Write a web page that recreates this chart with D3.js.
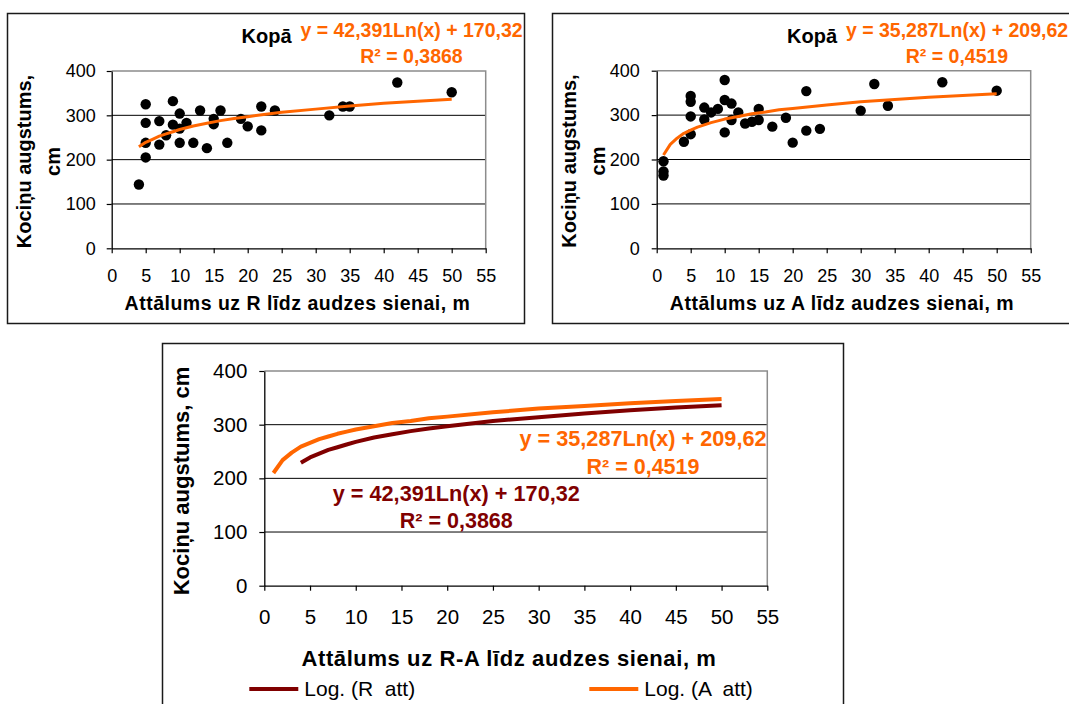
<!DOCTYPE html>
<meta charset="utf-8">
<script src="https://d3js.org/d3.v7.min.js"></script>
<style>
  body { margin: 0; background: #fff; }
  text { font-family: "Liberation Sans", Arial, sans-serif; }
</style>
<svg width="1069" height="704"></svg>
<script>

// scatter, distance to R wall
var rDist   = [4, 5, 5, 5, 5, 7, 7, 8, 9, 9, 10, 10, 10, 11, 12, 13, 14, 15, 15, 16, 17, 19, 20, 22, 22, 24, 32, 34, 35, 42, 50];
var rHeight = [144, 325, 283, 238, 205, 287, 234, 255, 332, 279, 304, 270, 238, 283, 238, 311, 226, 292, 280, 311, 238, 292, 275, 320, 266, 311, 300, 320, 320, 374, 352];

// scatter, distance to A wall
var aDist   = [1, 1, 1, 4, 5, 5, 5, 5, 7, 7, 8, 9, 10, 10, 10, 11, 11, 12, 13, 14, 15, 15, 17, 19, 20, 22, 22, 24, 30, 32, 34, 42, 50];
var aHeight = [196, 173, 164, 240, 343, 330, 297, 257, 317, 290, 306, 314, 379, 334, 261, 326, 289, 306, 281, 285, 314, 289, 274, 294, 238, 354, 265, 269, 310, 370, 321, 374, 355];

// log trend lines
var rTrendX = [4, 5, 6, 7, 8, 9, 10, 12, 14, 16, 18, 20, 25, 30, 35, 40, 45, 50];
var rTrendY = [229, 239, 246, 253, 258, 263, 268, 276, 282, 288, 293, 297, 307, 314, 321, 327, 332, 336];
var aTrendX = [1, 2, 3, 4, 5, 6, 7, 8, 9, 10, 12, 14, 16, 18, 20, 25, 30, 35, 40, 45, 50];
var aTrendY = [210, 234, 248, 259, 266, 273, 278, 283, 287, 291, 297, 303, 307, 312, 315, 323, 330, 335, 340, 344, 348];

var xTicks = [0, 5, 10, 15, 20, 25, 30, 35, 40, 45, 50, 55];
var yTicks = [0, 100, 200, 300, 400];

var rEq = "y = 42,391Ln(x) + 170,32", rR2 = "R\u00B2 = 0,3868";
var aEq = "y = 35,287Ln(x) + 209,62", aR2 = "R\u00B2 = 0,4519";

var orange = "#FF6600", darkRed = "#800000";

var svg = d3.select("svg");

function zip(xs, ys) { return xs.map(function(v, i) { return [v, ys[i]]; }); }

// one chart frame with plot area, grid and axes; returns the scales
function panel(c) {
  svg.append("rect")
    .attr("x", c.fx).attr("y", c.fy).attr("width", c.fw).attr("height", c.fh)
    .attr("fill", "#fff").attr("stroke", "#1a1a1a").attr("stroke-width", 1.5);

  var x = d3.scaleLinear().domain([0, 55]).range([c.x0, c.x1]);
  var y = d3.scaleLinear().domain([0, 400]).range([c.y0, c.y1]);

  // grid
  svg.append("g").selectAll("line")
    .data([100, 200, 300]).enter().append("line")
      .attr("x1", c.x0).attr("x2", c.x1)
      .attr("y1", function(d) { return y(d); }).attr("y2", function(d) { return y(d); })
      .attr("stroke", "#000").attr("stroke-width", 1);

  // grey top + right border of plot area
  svg.append("path")
    .attr("d", "M" + c.x0 + "," + y(400) + "H" + c.x1 + "V" + y(0))
    .attr("fill", "none").attr("stroke", "#8c8c8c").attr("stroke-width", 1.5);

  var gx = svg.append("g")
    .attr("transform", "translate(0," + c.y0 + ")")
    .call(d3.axisBottom(x).tickValues(xTicks).tickSize(5).tickSizeOuter(0).tickPadding(c.xPad));
  var gy = svg.append("g")
    .attr("transform", "translate(" + c.x0 + ",0)")
    .call(d3.axisLeft(y).tickValues(yTicks).tickSize(5).tickSizeOuter(0).tickPadding(c.yPad));

  [gx, gy].forEach(function(g) {
    g.select(".domain").attr("stroke", "#000").attr("stroke-width", 1.3);
    g.selectAll(".tick line").attr("stroke", "#000").attr("stroke-width", 1.2);
    g.selectAll("text")
      .style("font-family", '"Liberation Sans", Arial, sans-serif')
      .style("font-size", c.tickFont + "px").attr("fill", "#000");
  });

  return {x: x, y: y};
}

function label(txt, px, py, size, color, opts) {
  opts = opts || {};
  var t = svg.append("text")
    .attr("x", px).attr("y", py)
    .attr("text-anchor", opts.anchor || "middle")
    .attr("font-size", size)
    .attr("font-weight", opts.bold === false ? "normal" : "bold")
    .attr("fill", color)
    .style("white-space", "pre")
    .text(txt);
  if (opts.rotate) t.attr("transform", "rotate(-90," + px + "," + py + ")");
  if (opts.ls) t.attr("letter-spacing", opts.ls);
  return t;
}

function dots(s, xs, ys) {
  svg.append("g").selectAll("circle")
    .data(zip(xs, ys)).enter().append("circle")
      .attr("cx", function(d) { return s.x(d[0]); })
      .attr("cy", function(d) { return s.y(d[1]); })
      .attr("r", 5.2)
      .attr("fill", "#000");
}

function trend(s, xs, ys, color, w) {
  var line = d3.line()
    .x(function(d) { return s.x(d[0]); })
    .y(function(d) { return s.y(d[1]); });
  svg.append("path")
    .datum(zip(xs, ys))
    .attr("d", line)
    .attr("fill", "none").attr("stroke", color).attr("stroke-width", w)
    .attr("stroke-linejoin", "round");
}

// ---- top left: R ----
var s1 = panel({fx: 7.5, fy: 13.5, fw: 517, fh: 310,
  x0: 111.7, x1: 485.7, y0: 248.3, y1: 71, xPad: 16, yPad: 11, tickFont: 18});
dots(s1, rDist, rHeight);
trend(s1, rTrendX, rTrendY, orange, 3);
label("Kopā", 266.5, 43, 20, "#000");
label(rEq, 411.5, 37, 19.5, orange);
label(rR2, 411.5, 63, 19.5, orange);
label("Kociņu augstums,", 31, 161.5, 20, "#000", {rotate: true});
label("cm", 59.5, 161.5, 20, "#000", {rotate: true});
label("Attālums uz R līdz audzes sienai, m", 297.5, 310, 19.5, "#000", {ls: 0.5});

// ---- top right: A ----
var s2 = panel({fx: 552.5, fy: 13.5, fw: 530, fh: 310,
  x0: 656.7, x1: 1030.7, y0: 248.3, y1: 70.7, xPad: 16, yPad: 12, tickFont: 18});
dots(s2, aDist, aHeight);
trend(s2, aTrendX, aTrendY, orange, 3);
label("Kopā", 812, 43, 20, "#000");
label(aEq, 957, 37, 19.5, orange);
label(aR2, 957, 63, 19.5, orange);
label("Kociņu augstums,", 576, 161, 20, "#000", {rotate: true});
label("cm", 604.5, 161, 20, "#000", {rotate: true});
label("Attālums uz A līdz audzes sienai, m", 842, 310, 19.5, "#000", {ls: 0.5});

// ---- bottom: both trends ----
var s3 = panel({fx: 162.5, fy: 343.5, fw: 681, fh: 400,
  x0: 264.3, x1: 767.3, y0: 585.7, y1: 371, xPad: 19, yPad: 12, tickFont: 20.5});
trend(s3, rTrendX, rTrendY, darkRed, 4);
trend(s3, aTrendX, aTrendY, orange, 4);
label(aEq, 643, 445.5, 21.7, orange);
label(aR2, 643, 473.5, 21.5, orange);
label(rEq, 456.3, 500.5, 21.7, darkRed);
label(rR2, 456.3, 527.5, 21.5, darkRed);
label("Kociņu augstums, cm", 189, 481, 22, "#000", {rotate: true});
label("Attālums uz R-A līdz audzes sienai, m", 509, 666, 22, "#000", {ls: 0.6});

// legend
var legend = [
  {name: "Log. (R  att)", color: darkRed, x: 249.3},
  {name: "Log. (A  att)", color: orange, x: 589.3}
];
legend.forEach(function(d) {
  svg.append("line")
    .attr("x1", d.x).attr("x2", d.x + 49).attr("y1", 689).attr("y2", 689)
    .attr("stroke", d.color).attr("stroke-width", 4);
  label(d.name, d.x + 55, 696, 21, "#000", {anchor: "start", bold: false});
});

</script>
